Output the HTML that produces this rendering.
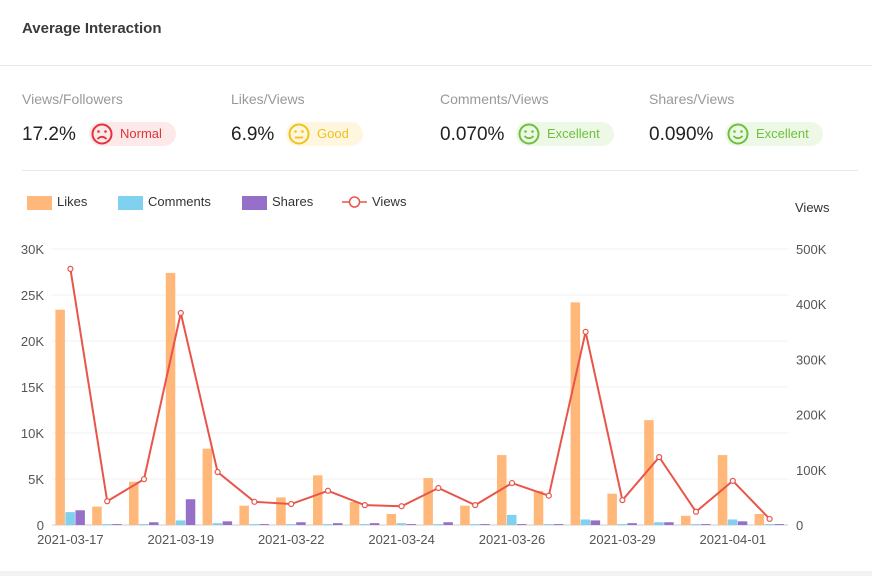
<!DOCTYPE html>
<html><head><meta charset="utf-8">
<style>
body{margin:0;width:872px;height:576px;background:#fff;font-family:"Liberation Sans",sans-serif;position:relative;overflow:hidden}
.t{position:absolute;white-space:nowrap}
.lbl{color:#999;font-size:14px}
.val{color:#222;font-size:19px}
.pill{position:absolute;height:24px;border-radius:12px;font-size:13px;line-height:24px;padding-left:31px;padding-right:14px}
.face{position:absolute;left:2px;top:1px}
</style></head><body>
<div class="t" style="left:22px;top:20px;font-size:15px;font-weight:bold;color:#3a3a3a">Average Interaction</div>
<div style="position:absolute;left:0;top:65px;width:872px;height:1px;background:#e8e8e8"></div>

<div class="t lbl" style="left:22px;top:91px">Views/Followers</div>
<div class="t val" style="left:22px;top:124px">17.2%</div>
<div class="pill" style="left:89px;top:122px;background:#fde8ea;color:#e0333a">
<svg class="face" width="22" height="22" viewBox="0 0 22 22"><circle cx="11" cy="11" r="9.5" fill="none" stroke="#e0333a" stroke-width="2"/><circle cx="7.5" cy="8.5" r="1.3" fill="#e0333a"/><circle cx="14.5" cy="8.5" r="1.3" fill="#e0333a"/><path d="M6.5 16 Q11 11.5 15.5 16" fill="none" stroke="#e0333a" stroke-width="1.8"/></svg>Normal</div>

<div class="t lbl" style="left:231px;top:91px">Likes/Views</div>
<div class="t val" style="left:231px;top:124px">6.9%</div>
<div class="pill" style="left:286px;top:122px;background:#fff6e0;color:#f2c11c">
<svg class="face" width="22" height="22" viewBox="0 0 22 22"><circle cx="11" cy="11" r="9.5" fill="none" stroke="#f2c11c" stroke-width="2"/><circle cx="7.5" cy="8.5" r="1.3" fill="#f2c11c"/><circle cx="14.5" cy="8.5" r="1.3" fill="#f2c11c"/><path d="M7 14.5 H15" stroke="#f2c11c" stroke-width="1.8"/></svg>Good</div>

<div class="t lbl" style="left:440px;top:91px">Comments/Views</div>
<div class="t val" style="left:440px;top:124px">0.070%</div>
<div class="pill" style="left:516px;top:122px;background:#eef8e6;color:#6cc23a">
<svg class="face" width="22" height="22" viewBox="0 0 22 22"><circle cx="11" cy="11" r="9.5" fill="none" stroke="#6cc23a" stroke-width="2"/><circle cx="7.5" cy="8.5" r="1.3" fill="#6cc23a"/><circle cx="14.5" cy="8.5" r="1.3" fill="#6cc23a"/><path d="M6.5 13 Q11 17.5 15.5 13" fill="none" stroke="#6cc23a" stroke-width="1.8"/></svg>Excellent</div>

<div class="t lbl" style="left:649px;top:91px">Shares/Views</div>
<div class="t val" style="left:649px;top:124px">0.090%</div>
<div class="pill" style="left:725px;top:122px;background:#eef8e6;color:#6cc23a">
<svg class="face" width="22" height="22" viewBox="0 0 22 22"><circle cx="11" cy="11" r="9.5" fill="none" stroke="#6cc23a" stroke-width="2"/><circle cx="7.5" cy="8.5" r="1.3" fill="#6cc23a"/><circle cx="14.5" cy="8.5" r="1.3" fill="#6cc23a"/><path d="M6.5 13 Q11 17.5 15.5 13" fill="none" stroke="#6cc23a" stroke-width="1.8"/></svg>Excellent</div>

<div style="position:absolute;left:22px;top:170px;width:836px;height:1px;background:#e8e8e8"></div>
<div style="position:absolute;left:0;top:571px;width:872px;height:5px;background:#f2f2f2"></div>

<svg id="chart" width="872" height="576" style="position:absolute;left:0;top:0" font-family="Liberation Sans, sans-serif"></svg>
<script>
const categories=["2021-03-17","2021-03-18","2021-03-18b","2021-03-19","2021-03-20","2021-03-21","2021-03-22","2021-03-22b","2021-03-23","2021-03-24","2021-03-25","2021-03-25b","2021-03-26","2021-03-27","2021-03-28","2021-03-29","2021-03-30","2021-03-31","2021-04-01","2021-04-02"];
const tickLabels=["2021-03-17","","","2021-03-19","","","2021-03-22","","","2021-03-24","","","2021-03-26","","","2021-03-29","","","2021-04-01",""];
const likes=[23.4,2.0,4.7,27.4,8.3,2.1,3.0,5.4,2.5,1.2,5.1,2.1,7.6,3.7,24.2,3.4,11.4,1.0,7.6,1.2];
const comments=[1.4,0.1,0.1,0.5,0.2,0.1,0.1,0.1,0.1,0.2,0.1,0.1,1.1,0.1,0.6,0.1,0.3,0.1,0.6,0.1];
const shares=[1.6,0.1,0.3,2.8,0.4,0.1,0.3,0.2,0.2,0.1,0.3,0.1,0.1,0.1,0.5,0.2,0.3,0.1,0.4,0.1];
const views=[464,43,83,384,96,42,38,62,36,34,67,36,76,53,350,45,123,24,80,11];
const leftTicks=[0,5,10,15,20,25,30];
const rightTicks=[0,100,200,300,400,500];

const svg=document.getElementById('chart');
const NS='http://www.w3.org/2000/svg';
const X0=52,X1=788,Y0=525,Y1=249;
const bw=(X1-X0)/categories.length;
const xC=i=>X0+bw*(i+0.5);
const yL=v=>Y0-(v/30)*(Y0-Y1);
const yR=v=>Y0-(v/500)*(Y0-Y1);
function mk(tag,attrs,txt){const e=document.createElementNS(NS,tag);for(const k in attrs)e.setAttribute(k,attrs[k]);if(txt!==undefined)e.textContent=txt;svg.appendChild(e);return e;}

leftTicks.forEach((v,i)=>{
  const g=mk('line',{x1:X0,x2:X1,y1:yL(v),y2:yL(v),stroke:i===0?'#ccc':'#f0f0f0'});
  
  
  const t=mk('text',{x:44,y:yL(v)+5,'text-anchor':'end','font-size':13,fill:'#555'},v===0?'0':v+'K');
  
  
});
rightTicks.forEach(v=>{
  const t=mk('text',{x:796,y:yR(v)+5,'font-size':13,fill:'#555'},v===0?'0':v+'K');
  
  
});
const rt=mk('text',{x:795,y:212,'font-size':13,fill:'#333'},'Views');



tickLabels.forEach((l,i)=>{
  if(!l)return;
  const t=mk('text',{x:xC(i),y:544,'text-anchor':'middle','font-size':13,fill:'#555'},l);
  
  
});

const series=[[likes,'#ffb77a','bar-likes'],[comments,'#80d0f0','bar-comments'],[shares,'#9670c8','bar-shares']];
categories.forEach((c,i)=>{
  series.forEach((s,j)=>{
    const v=s[0][i];
    const r=mk('rect',{x:xC(i)-15+j*10,y:yL(v),width:9.5,height:Y0-yL(v),fill:s[1]});
    
    
  });
});

const pts=views.map((v,i)=>xC(i)+','+yR(v)).join(' ');
const pl=mk('polyline',{points:pts,fill:'none',stroke:'#e8554a','stroke-width':2});


views.forEach((v,i)=>{
  const c=mk('circle',{cx:xC(i),cy:yR(v),r:2.5,fill:'#fff',stroke:'#e8554a','stroke-width':1.2});
  
  
});

const leg=[['Likes','#ffb77a',27],['Comments','#80d0f0',118],['Shares','#9670c8',242]];
leg.forEach(l=>{
  const r=mk('rect',{x:l[2],y:196,width:25,height:14,fill:l[1]});
  
  
  const t=mk('text',{x:l[2]+30,y:206,'font-size':13,fill:'#333'},l[0]);
  
  
});
const ll=mk('line',{x1:342,x2:367,y1:202,y2:202,stroke:'#e8554a','stroke-width':1.5});


const lc=mk('circle',{cx:354.5,cy:202,r:5,fill:'#fff',stroke:'#e8554a','stroke-width':1.5});


const lt=mk('text',{x:372,y:206,'font-size':13,fill:'#333'},'Views');


</script>
</body></html>
